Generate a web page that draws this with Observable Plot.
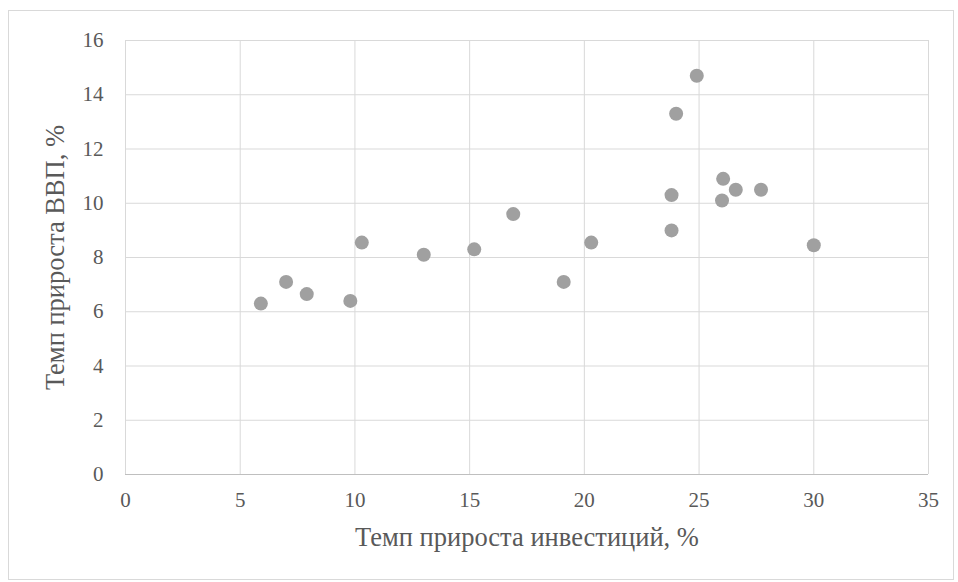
<!DOCTYPE html>
<html>
<head>
<meta charset="utf-8">
<script src="https://cdn.jsdelivr.net/npm/d3@7"></script>
<script src="https://cdn.jsdelivr.net/npm/@observablehq/plot@0.6"></script>
<style>
  html, body { margin: 0; padding: 0; background: #fff; }
  #wrap { position: relative; width: 958px; height: 582px; }
  #frame { position: absolute; left: 8px; top: 10px; width: 946px; height: 570px; border: 1.5px solid #d9d9d9; box-sizing: border-box; pointer-events: none; }
  svg { display: block; }
</style>
</head>
<body>
<div id="wrap"><div id="frame"></div></div>
<script>
// Data
const investGrowth = [5.9, 7.0, 7.9, 9.8, 10.3, 13.0, 15.2, 16.9, 19.1, 20.3, 23.8, 23.8, 24.0, 24.9, 26.0, 26.05, 26.6, 27.7, 30.0];
const gdpGrowth    = [6.3, 7.1, 6.65, 6.4, 8.55, 8.1, 8.3, 9.6, 7.1, 8.55, 9.0, 10.3, 13.3, 14.7, 10.1, 10.9, 10.5, 10.5, 8.45];
const xTicks = [0, 5, 10, 15, 20, 25, 30, 35];
const yTicks = [0, 2, 4, 6, 8, 10, 12, 14, 16];
const xTitle = "Темп прироста инвестиций, %";
const yTitle = "Темп прироста ВВП, %";

const data = investGrowth.map((x, i) => ({x, y: gdpGrowth[i]}));
const serif = "'Liberation Serif', 'Times New Roman', serif";

const chart = Plot.plot({
  width: 958,
  height: 582,
  marginLeft: 125,
  marginRight: 30,
  marginTop: 40,
  marginBottom: 108,
  style: { fontFamily: serif, color: "#595959", background: "transparent" },
  x: { domain: [0, 35] },
  y: { domain: [0, 16] },
  marks: [
    Plot.gridX(xTicks, { stroke: "#d9d9d9", strokeOpacity: 1 }),
    Plot.gridY(yTicks, { stroke: "#d9d9d9", strokeOpacity: 1 }),
    Plot.ruleY([0], { stroke: "#bfbfbf", strokeWidth: 1.2 }),
    Plot.axisX({ ticks: xTicks, tickSize: 0, tickPadding: 18, fontSize: 21, fontFamily: serif, label: xTitle, labelAnchor: "center", labelArrow: "none", labelOffset: 71 }),
    Plot.axisY({ ticks: yTicks, tickSize: 0, tickPadding: 22, fontSize: 21, fontFamily: serif, label: yTitle, labelAnchor: "center", labelArrow: "none", labelOffset: 80 }),
    Plot.dot(data, { x: "x", y: "y", r: 7, fill: "#a0a0a0", stroke: "none" })
  ]
});
chart.querySelectorAll("g[aria-label='x-axis label'] text, g[aria-label='y-axis label'] text").forEach(t => t.setAttribute("font-size", "26.5"));
document.getElementById("wrap").prepend(chart);
</script>
</body>
</html>
